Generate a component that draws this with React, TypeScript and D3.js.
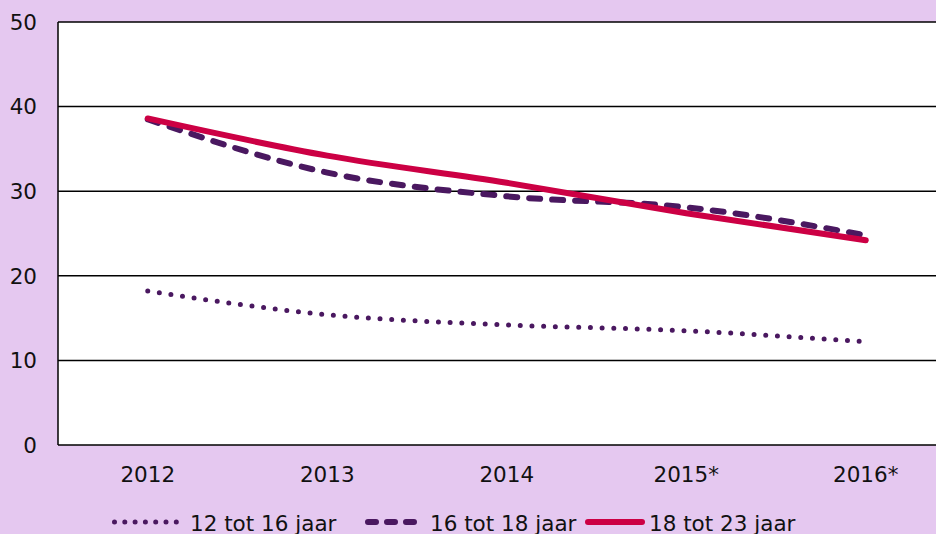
import React from "react";
import * as d3 from "d3";

const categories = ["2012", "2013", "2014", "2015*", "2016*"];
const series12to16 = [18.2, 15.4, 14.2, 13.5, 12.2];
const series16to18 = [38.5, 32.2, 29.4, 28.1, 24.8];
const series18to23 = [38.6, 34.2, 31.0, 27.4, 24.2];
const yTicks = [0, 10, 20, 30, 40, 50];
const seriesNames = ["12 tot 16 jaar", "16 tot 18 jaar", "18 tot 23 jaar"];

const W = 936;
const H = 534;
const BG = "#e5c8f0";
const PURPLE = "#4a1860";
const RED = "#cc0044";
const FONT = "'DejaVu Sans', Verdana, sans-serif";
const FS = 21.5;

export default function App() {
  const left = 58;
  const top = 22;
  const bottom = 445;
  const x = d3.scaleBand<string>().domain(categories).range([left, left + 179.5 * 5]);
  const y = d3.scaleLinear().domain([0, 50]).range([bottom, top]);
  const cx = (c: string) => (x(c) as number) + x.bandwidth() / 2;
  const line = d3
    .line<number>()
    .x((_, i) => cx(categories[i]))
    .y((d) => y(d))
    .curve(d3.curveMonotoneX);

  const styles = [
    { data: series12to16, width: 5, dash: "0 11.7", legendDash: "0 10.3" },
    { data: series16to18, width: 6, dash: "11 12", legendDash: "8 11" },
    { data: series18to23, width: 6, dash: "", legendDash: "" },
  ];
  const colors = [PURPLE, PURPLE, RED];
  const legendItems = [
    { x1: 114.5, x2: 176.5, tx: 190 },
    { x1: 368, x2: 414, tx: 430 },
    { x1: 588, x2: 642, tx: 649 },
  ];
  const legendY = 522;

  return (
    <svg width={W} height={H} style={{ position: "absolute", left: 0, top: 0, display: "block" }}>
      <rect x={0} y={0} width={W} height={H} fill={BG} />
      <rect x={left} y={top} width={W - left} height={bottom - top} fill="#fff" />
      {yTicks.map((t) => (
        <g key={t}>
          {t > 0 && (
            <line x1={left} x2={W} y1={y(t)} y2={y(t)} stroke="#000" strokeWidth={1.5} />
          )}
          <text
            x={37}
            y={y(t)}
            dy="0.36em"
            textAnchor="end"
            fontFamily={FONT}
            fontSize={FS}
            fill="#111"
          >
            {t}
          </text>
        </g>
      ))}
      <line x1={left} x2={W} y1={bottom} y2={bottom} stroke="#000" strokeWidth={1.5} />
      <line x1={left} x2={left} y1={top} y2={bottom} stroke="#000" strokeWidth={1.5} />
      {categories.map((c) => (
        <text
          key={c}
          x={cx(c)}
          y={481.5}
          textAnchor="middle"
          fontFamily={FONT}
          fontSize={FS}
          fill="#111"
        >
          {c}
        </text>
      ))}
      {styles.map((s, i) => (
        <path
          key={i}
          d={line(s.data) as string}
          fill="none"
          stroke={colors[i]}
          strokeWidth={s.width}
          strokeDasharray={s.dash || undefined}
          strokeLinecap="round"
          strokeLinejoin="round"
        />
      ))}
      {legendItems.map((l, i) => (
        <g key={i}>
          <line
            x1={l.x1}
            x2={l.x2}
            y1={legendY}
            y2={legendY}
            stroke={colors[i]}
            strokeWidth={styles[i].width}
            strokeDasharray={styles[i].legendDash || undefined}
            strokeLinecap="round"
          />
          <text
            x={l.tx}
            y={531}
            fontFamily={FONT}
            fontSize={FS}
            fill="#111"
          >
            {seriesNames[i]}
          </text>
        </g>
      ))}
    </svg>
  );
}
